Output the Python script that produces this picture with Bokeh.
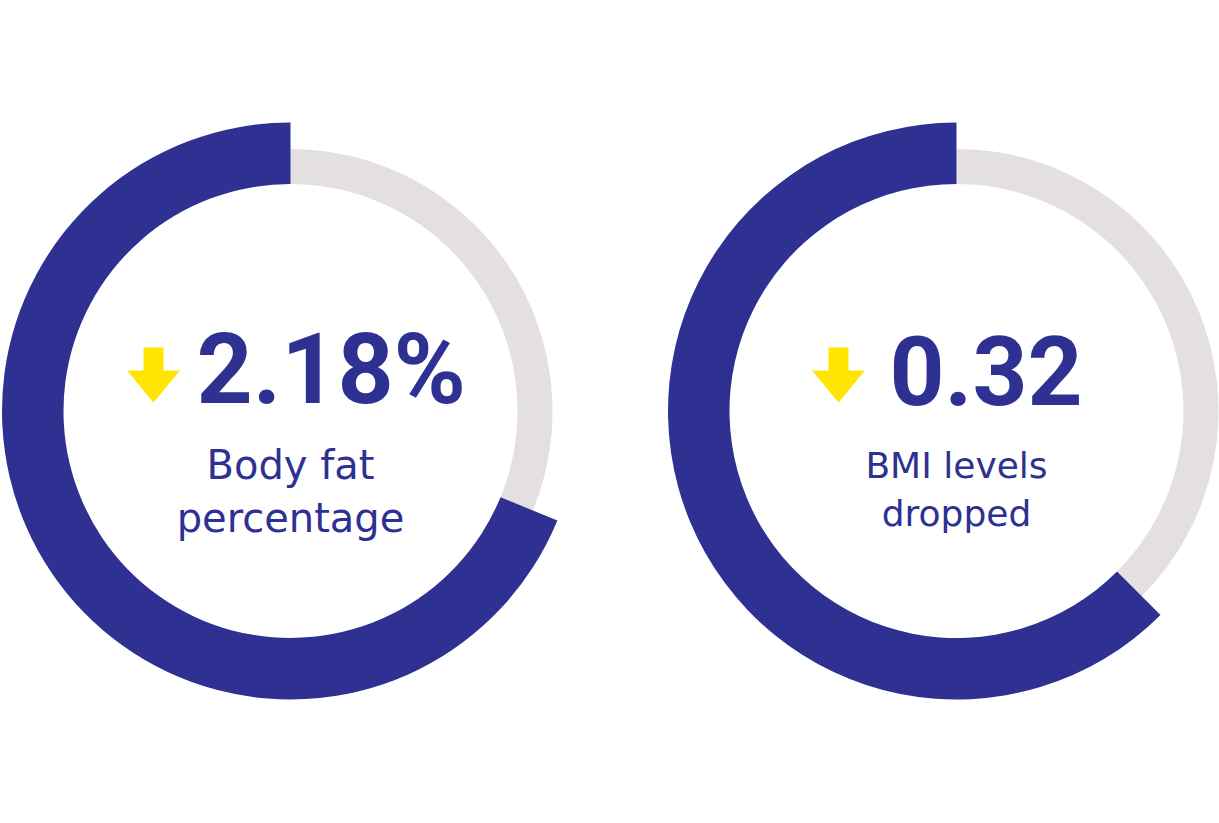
import math
from bokeh.plotting import figure
from bokeh.models import Range1d
from bokeh.core.properties import value
from bokeh.embed import file_html
from bokeh.resources import INLINE

# ---- data ----
values = ["2.18%", "0.32"]                      # headline numbers
labels_line1 = ["Body fat", "BMI levels"]
labels_line2 = ["percentage", "dropped"]
progress = [0.688, 0.625]                       # fraction of ring filled (dark)

# ---- styles / layout ----
NAVY = "#2E3192"
GREY = "#E4E0E1"
YELLOW = "#FFE500"
W, H = 1219, 823
cx = [290, 956]
cy_screen = 410.5
R_OUT_DARK, R_OUT_GREY, R_IN = 288.5, 262, 227

def sy(y):  # screen y -> data y
    return 823 - y

p = figure(width=W, height=H, output_backend="svg", toolbar_location=None,
           x_range=Range1d(0, W), y_range=Range1d(823 - H, 823),
           x_axis_location=None, y_axis_location=None, min_border=0)
p.grid.visible = False
p.outline_line_color = None
p.background_fill_color = "white"
p.border_fill_color = "white"

start = math.pi / 2
for i in range(2):
    end = start + 2 * math.pi * progress[i]
    p.annular_wedge(x=cx[i], y=sy(cy_screen), inner_radius=R_IN, outer_radius=R_OUT_GREY,
                    start_angle=end, end_angle=start + 2 * math.pi, direction="anticlock",
                    fill_color=GREY, line_color=None)
    p.annular_wedge(x=cx[i], y=sy(cy_screen), inner_radius=R_IN, outer_radius=R_OUT_DARK,
                    start_angle=start, end_angle=end, direction="anticlock",
                    fill_color=NAVY, line_color=None)

# numbers
NUM_SIZE = [98, 96]
num_x = [cx[0] - 94, cx[1] - 67]
arrow_cx = [cx[0] - 137, cx[1] - 118]
for i in range(2):
    p.text(x=[num_x[i]], y=[sy(406 - 0.38 * NUM_SIZE[i])], text=[values[i]],
           text_font=value("Roboto"), text_font_style="bold",
           text_font_size=f"{NUM_SIZE[i]}px", text_color=NAVY,
           text_align="left", text_baseline="alphabetic")

# arrows (icon shape relative to anchor)
for ax in arrow_cx:
    shaft_w, head_w, top, head_top, tip = 20, 53, 347, 370, 402
    xs = [ax - shaft_w / 2, ax + shaft_w / 2, ax + shaft_w / 2, ax + head_w / 2,
          ax, ax - head_w / 2, ax - shaft_w / 2]
    ys = [top, top, head_top, head_top, tip, head_top, head_top]
    p.patch(xs, [sy(v) for v in ys], fill_color=YELLOW, line_color=None)

# labels
sizes = [40, 36]
base1 = [480, 479]
base2 = [533, 527]
for i in range(2):
    off = 0.40 * sizes[i]
    p.text(x=[cx[i]], y=[sy(base1[i] - off)], text=[labels_line1[i]], text_font=value("DejaVu Sans"),
           text_font_size=f"{sizes[i]}px", text_color=NAVY, text_align="center",
           text_baseline="alphabetic")
    p.text(x=[cx[i]], y=[sy(base2[i] - off)], text=[labels_line2[i]], text_font=value("DejaVu Sans"),
           text_font_size=f"{sizes[i]}px", text_color=NAVY, text_align="center",
           text_baseline="alphabetic")

open("out.html", "w").write(file_html(p, INLINE))
